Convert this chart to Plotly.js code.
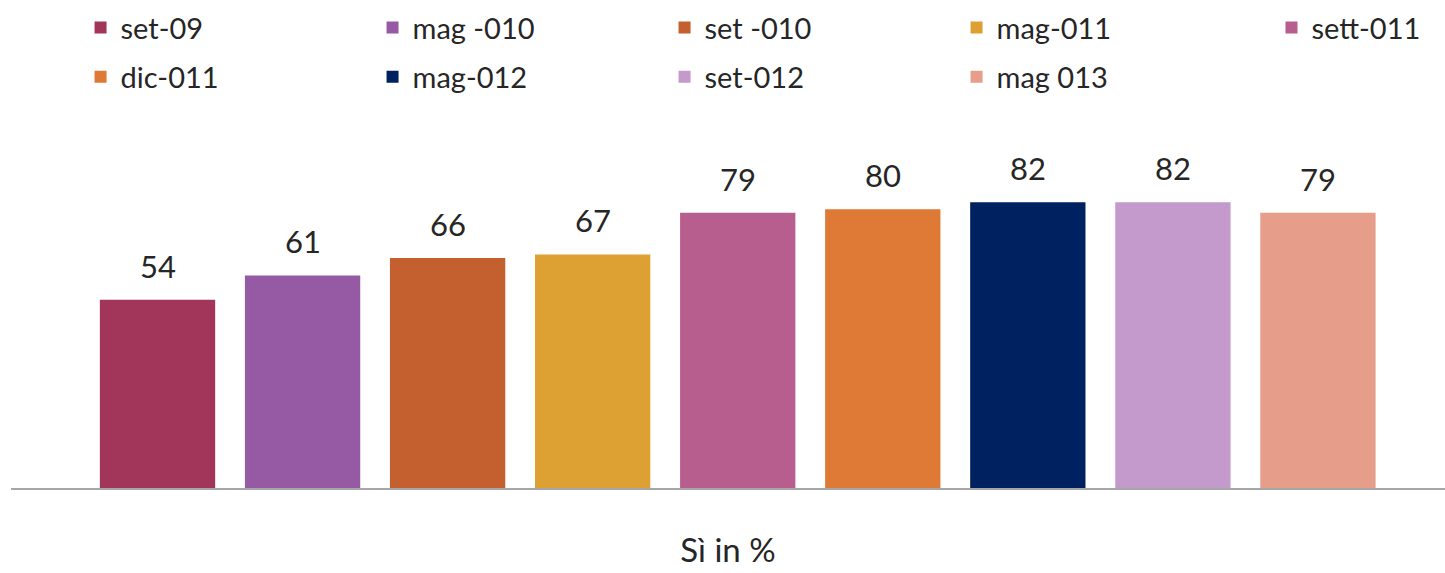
<!DOCTYPE html>
<html>
<head>
<meta charset="utf-8">
<script src="https://cdn.plot.ly/plotly-3.0.1.min.js"></script>
<style>html,body{margin:0;padding:0;background:#fff;}#chart{width:1445px;height:573px;}</style>
</head>
<body>
<div id="chart"></div>
<script>
const categories = ["set-09", "mag -010", "set -010", "mag-011", "sett-011", "dic-011", "mag-012", "set-012", "mag 013"];
const values = [54, 61, 66, 67, 79, 80, 82, 82, 79];
const colors = ["#A2355A", "#9659A4", "#C45F30", "#DDA032", "#B85E8F", "#DE7A35", "#00215F", "#C499CB", "#E69E8A"];
const legendSlot = ["legend", "legend", "legend", "legend", "legend3", "legend2", "legend2", "legend2", "legend2"];
const axisTitle = "Sì in %";

const FONT = "Lato, 'Open Sans', sans-serif";
const TXT = "#262626";

const traces = categories.map((name, i) => ({
  type: "bar",
  name: name,
  x: [i],
  y: [values[i]],
  width: 0.795,
  marker: { color: colors[i], line: { width: 0 } },
  legend: legendSlot[i],
  hoverinfo: "name+y"
}));

const annotations = categories.map((name, i) => ({
  x: i, y: values[i], xref: "x", yref: "y",
  text: String(values[i]),
  showarrow: false,
  yanchor: "bottom",
  yshift: 13,
  font: { family: FONT, size: 31, color: TXT }
}));

const legendCommon = {
  orientation: "h",
  xanchor: "left",
  yanchor: "top",
  font: { family: FONT, size: 29, color: TXT },
  entrywidth: 247,
  entrywidthmode: "pixels",
  bgcolor: "rgba(0,0,0,0)",
  borderwidth: 0,
  traceorder: "normal"
};

const layout = {
  width: 1445, height: 573,
  margin: { l: 11, r: 0, t: 110, b: 85 },
  paper_bgcolor: "#fff", plot_bgcolor: "#fff",
  barmode: "overlay",
  showlegend: true,
  legend: Object.assign({}, legendCommon, { x: 0.0485, y: 1.285 }),
  legend2: Object.assign({}, legendCommon, { x: 0.0485, y: 1.155 }),
  legend3: Object.assign({}, legendCommon, { x: 0.879, y: 1.285, entrywidth: 0 }),
  xaxis: {
    range: [-1.01, 8.876],
    showgrid: false, zeroline: false,
    showline: true, linecolor: "#A6A6A6", linewidth: 2,
    showticklabels: false, ticks: "",
    fixedrange: true,
    title: { text: axisTitle, font: { family: FONT, size: 33, color: TXT }, standoff: 50 }
  },
  yaxis: {
    range: [0, 108.46],
    visible: false,
    fixedrange: true
  },
  annotations: annotations
};

Plotly.newPlot("chart", traces, layout, { displayModeBar: false, staticPlot: true });
</script>
</body>
</html>
